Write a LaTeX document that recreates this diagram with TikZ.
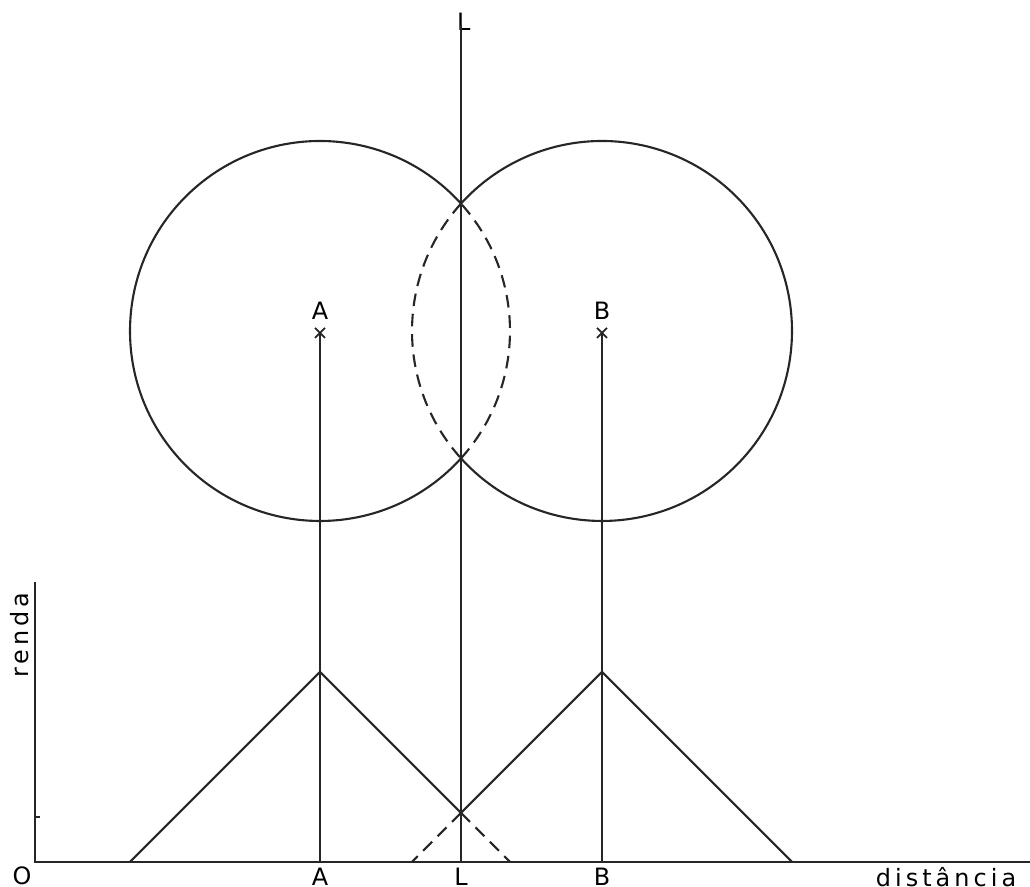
\documentclass[tikz,border=0pt]{standalone}
\usepackage{fontspec}
\setsansfont[LetterSpace=17]{DejaVu Sans}
\usetikzlibrary{positioning}

\begin{document}
\begin{tikzpicture}[
  curve/.style={line width=0.6pt, draw=black!85},
  hidden/.style={curve, dash pattern=on 3.6pt off 2.2pt},
  lbl/.style={font=\sffamily\fontsize{6.8}{8}\selectfont, inner sep=0pt},
  marker/.style={curve, line width=0.5pt}
]
  \useasboundingbox (0,0) rectangle (10.3,8.87);

  % Axes
  \coordinate (O) at (0.35,0.25);
  \coordinate (ytop) at (0.35,3.05);
  \coordinate (xend) at (10.3,0.25);
  \coordinate (ytick) at (0.35,0.70);
  \coordinate (ytickend) at (0.40,0.70);
  \node[lbl] (ozero) at (0.22,0.11) {O};
  \node[lbl, rotate=90] (renda) at (0.20,2.52) {renda};
  \node[lbl] (dist) at (9.46,0.10) {distância};

  \draw[curve] (ytop) -- (O) -- (xend);
  \draw[marker] (ytick) -- (ytickend);

  % Market points and boundary line
  \coordinate (Acen) at (3.20,5.56);
  \coordinate (Bcen) at (6.02,5.56);
  \coordinate (Ax) at (3.20,5.54);
  \coordinate (Bx) at (6.02,5.54);
  \coordinate (Afoot) at (3.20,0.25);
  \coordinate (Bfoot) at (6.02,0.25);
  \coordinate (Lfoot) at (4.61,0.25);
  \coordinate (Lhigh) at (4.61,8.62);

  \node[lbl, above=0.13cm of Ax] (Atop) {A};
  \node[lbl, above=0.13cm of Bx] (Btop) {B};
  \node[lbl] (Abot) at (3.20,0.10) {A};
  \node[lbl] (Lbot) at (4.61,0.10) {L};
  \node[lbl] (Bbot) at (6.02,0.10) {B};
  \node[lbl, anchor=south west, xshift=-1.3pt] (Ltop) at (4.61,8.56) {L};

  \draw[curve] (Ax) -- (Afoot);
  \draw[curve] (Bx) -- (Bfoot);
  \draw[curve] (Lfoot) -- (Lhigh);

  \draw[marker] (Ax) ++(-0.05,-0.05) -- ++(0.10,0.10);
  \draw[marker] (Ax) ++(-0.05,0.05) -- ++(0.10,-0.10);
  \draw[marker] (Bx) ++(-0.05,-0.05) -- ++(0.10,0.10);
  \draw[marker] (Bx) ++(-0.05,0.05) -- ++(0.10,-0.10);

  % Market areas
  \draw[curve] (Acen) ++(42.08:1.9) arc[start angle=42.08, end angle=317.92, radius=1.9];
  \draw[hidden] (Acen) ++(-42.08:1.9) arc[start angle=-42.08, end angle=42.08, radius=1.9];
  \draw[curve] (Bcen) ++(-137.92:1.9) arc[start angle=-137.92, end angle=137.92, radius=1.9];
  \draw[hidden] (Bcen) ++(137.92:1.9) arc[start angle=137.92, end angle=222.08, radius=1.9];

  % Rent cones
  \coordinate (Apeak) at (3.20,2.15);
  \coordinate (Bpeak) at (6.02,2.15);
  \coordinate (Aleft) at (1.30,0.25);
  \coordinate (Bright) at (7.92,0.25);
  \coordinate (meet) at (4.61,0.74);
  \coordinate (Aright) at (5.10,0.25);
  \coordinate (Bleft) at (4.12,0.25);

  \draw[curve] (Aleft) -- (Apeak) -- (meet);
  \draw[curve] (Bright) -- (Bpeak) -- (meet);
  \draw[hidden] (meet) -- (Aright);
  \draw[hidden] (meet) -- (Bleft);

\end{tikzpicture}
\end{document}
